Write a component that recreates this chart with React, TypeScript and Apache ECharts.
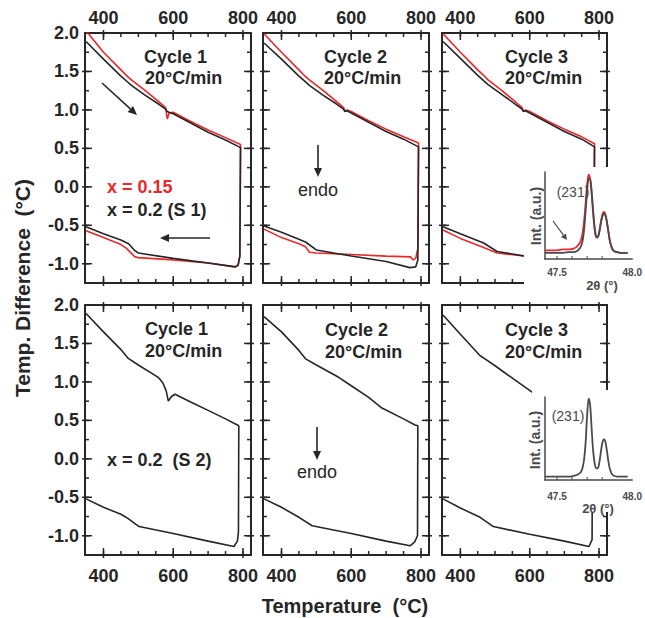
import React, { useEffect, useRef } from "react";
import * as echarts from "echarts";

// ---------- axis ranges & tick values ----------
const T_MIN = 347;
const T_MAX = 823;
const Y_MIN = -1.25;
const Y_MAX = 2.0;
const X_LABELS = [400, 600, 800];
const X_MINOR = [400, 450, 500, 550, 600, 650, 700, 750, 800];
const Y_LABELS = [-1.0, -0.5, 0.0, 0.5, 1.0, 1.5, 2.0];
const Y_MINOR = [-1.0, -0.75, -0.5, -0.25, 0, 0.25, 0.5, 0.75, 1.0, 1.25, 1.5, 1.75];

const INSET_X_MIN = 47.42;
const INSET_X_MAX = 48.0;
const INSET_LABELS = [47.5, 48.0];
const INSET_TICKS = [47.5, 47.6, 47.7, 47.8];

// ---------- top row: x = 0.2 (S 1) black, x = 0.15 red ----------
const S1C1_T_BLACK = [350, 400, 450, 470, 480, 520, 560, 578, 583, 588, 600, 650, 700, 750, 793, 791, 786, 778, 700, 600, 500, 490, 472, 450, 400, 350];
const S1C1_V_BLACK = [1.89, 1.66, 1.44, 1.36, 1.32, 1.19, 1.07, 1.01, 0.98, 0.97, 0.95, 0.83, 0.71, 0.61, 0.51, -0.90, -1.02, -1.04, -0.99, -0.93, -0.86, -0.83, -0.74, -0.69, -0.61, -0.52];
const S1C1_T_RED = [350, 400, 450, 470, 480, 520, 560, 578, 583, 588, 600, 650, 700, 750, 793, 791, 786, 778, 700, 600, 500, 490, 466, 450, 400, 350];
const S1C1_V_RED = [2.03, 1.75, 1.52, 1.43, 1.39, 1.25, 1.10, 1.03, 0.88, 0.96, 0.97, 0.85, 0.74, 0.64, 0.55, -0.90, -1.01, -1.04, -0.99, -0.95, -0.92, -0.91, -0.80, -0.75, -0.66, -0.57];

const S1C2_T_BLACK = [350, 400, 450, 465, 480, 520, 560, 578, 582, 588, 600, 650, 700, 750, 793, 791, 785, 768, 700, 600, 500, 470, 450, 400, 350];
const S1C2_V_BLACK = [1.87, 1.66, 1.44, 1.38, 1.32, 1.19, 1.07, 1.01, 0.98, 0.99, 0.96, 0.84, 0.72, 0.62, 0.52, -0.95, -1.04, -1.05, -0.97, -0.90, -0.82, -0.72, -0.68, -0.59, -0.51];
const S1C2_T_RED = [350, 400, 450, 465, 480, 520, 560, 578, 582, 588, 600, 650, 700, 750, 793, 791, 785, 778, 770, 700, 600, 500, 480, 469, 450, 400, 350];
const S1C2_V_RED = [1.99, 1.75, 1.52, 1.45, 1.39, 1.25, 1.10, 1.03, 0.98, 1.00, 0.98, 0.86, 0.75, 0.65, 0.57, -0.80, -0.93, -0.95, -0.91, -0.90, -0.88, -0.86, -0.85, -0.78, -0.74, -0.66, -0.55];

const S1C3_T_BLACK = [350, 400, 450, 467, 480, 520, 560, 578, 582, 588, 600, 650, 700, 750, 787, 785, 775, 700, 600, 506, 467, 400, 350];
const S1C3_V_BLACK = [1.89, 1.67, 1.45, 1.38, 1.33, 1.20, 1.07, 1.01, 0.98, 0.99, 0.96, 0.84, 0.72, 0.62, 0.52, -0.95, -1.03, -0.97, -0.91, -0.84, -0.73, -0.61, -0.52];
const S1C3_T_RED = [350, 400, 450, 467, 480, 520, 560, 578, 582, 588, 600, 650, 700, 750, 787, 785, 775, 700, 584, 506, 467, 400, 350];
const S1C3_V_RED = [1.99, 1.75, 1.52, 1.45, 1.39, 1.25, 1.10, 1.03, 0.98, 1.00, 0.98, 0.86, 0.75, 0.65, 0.56, -0.90, -0.95, -0.92, -0.90, -0.86, -0.79, -0.67, -0.56];

// ---------- bottom row: x = 0.2 (S 2) ----------
const S2C1_T = [350, 400, 450, 470, 500, 557, 570, 580, 586, 595, 605, 650, 700, 750, 788, 787, 784, 774, 700, 600, 502, 472, 450, 400, 350];
const S2C1_V = [1.89, 1.65, 1.42, 1.31, 1.22, 1.06, 0.99, 0.88, 0.75, 0.81, 0.84, 0.74, 0.63, 0.52, 0.43, -0.95, -1.07, -1.14, -1.07, -0.97, -0.88, -0.78, -0.72, -0.63, -0.52];
const S2C2_T = [350, 400, 450, 469, 500, 564, 600, 650, 688, 750, 783, 791, 790, 782, 769, 700, 600, 488, 450, 400, 350];
const S2C2_V = [1.85, 1.65, 1.41, 1.30, 1.22, 1.06, 0.95, 0.80, 0.66, 0.52, 0.44, 0.43, -1.00, -1.08, -1.13, -1.07, -0.97, -0.87, -0.76, -0.63, -0.52];
const S2C3_T = [350, 400, 457, 471, 500, 550, 609, 650, 700, 750, 781, 780, 771, 700, 600, 495, 457, 400, 350];
const S2C3_V = [1.87, 1.62, 1.34, 1.30, 1.21, 1.05, 0.86, 0.76, 0.63, 0.52, 0.45, -1.05, -1.14, -1.07, -0.98, -0.88, -0.76, -0.64, -0.52];

// ---------- XRD insets: (231) reflection ----------
const INSET_2THETA = [47.42, 47.46, 47.5, 47.54, 47.58, 47.61, 47.63, 47.65, 47.66, 47.67, 47.68, 47.69, 47.7, 47.71, 47.72, 47.73, 47.74, 47.75, 47.76, 47.77, 47.78, 47.79, 47.8, 47.81, 47.82, 47.83, 47.84, 47.85, 47.86, 47.87, 47.88, 47.9, 47.93, 47.97];
const INSET_TOP_RED = [0.10, 0.10, 0.10, 0.11, 0.11, 0.12, 0.14, 0.18, 0.22, 0.30, 0.44, 0.64, 0.86, 0.97, 0.92, 0.74, 0.52, 0.34, 0.25, 0.25, 0.31, 0.41, 0.50, 0.54, 0.52, 0.44, 0.33, 0.22, 0.15, 0.11, 0.09, 0.08, 0.07, 0.07];
const INSET_TOP_BLACK = [0.07, 0.07, 0.07, 0.07, 0.08, 0.08, 0.09, 0.12, 0.15, 0.21, 0.34, 0.55, 0.78, 0.92, 0.92, 0.78, 0.56, 0.36, 0.26, 0.25, 0.30, 0.40, 0.48, 0.52, 0.51, 0.44, 0.33, 0.22, 0.15, 0.11, 0.09, 0.08, 0.07, 0.07];
const INSET_BOTTOM = [0.04, 0.04, 0.04, 0.04, 0.04, 0.05, 0.06, 0.08, 0.10, 0.15, 0.25, 0.45, 0.78, 0.98, 0.90, 0.62, 0.35, 0.20, 0.14, 0.14, 0.20, 0.32, 0.44, 0.49, 0.47, 0.37, 0.24, 0.14, 0.09, 0.06, 0.05, 0.04, 0.04, 0.04];

const FONT = '"Liberation Sans", Arial, Helvetica, sans-serif';
const INK = "#262626";
const RED = "#e8282b";
const INSET_INK = "#4a4a4a";

const zip = (a: number[], b: number[]) => a.map((v, i) => [v, b[i]]);

const GRIDS = [
  { left: 85, top: 33, width: 166, height: 250 },
  { left: 263, top: 33, width: 166, height: 250 },
  { left: 442, top: 33, width: 165, height: 250 },
  { left: 85, top: 305, width: 166, height: 250 },
  { left: 263, top: 305, width: 166, height: 250 },
  { left: 442, top: 305, width: 165, height: 250 },
  { left: 545, top: 172, width: 93, height: 87 },
  { left: 545, top: 397, width: 93, height: 83 },
];

// tick marks drawn through the axes' own scales: item = [kind, value, insideLen, outsideLen]
// kind 0: x tick on bottom and top border, kind 1: y tick on left and right border, kind 2: x tick on bottom only
function tickRender(color: string, width: number) {
  return (params: any, api: any) => {
    const cs = params.coordSys;
    const kind = api.value(0);
    const v = api.value(1);
    const inL = api.value(2);
    const outL = api.value(3);
    const b = cs.y + cs.height;
    const t = cs.y;
    const l = cs.x;
    const r = cs.x + cs.width;
    const seg = (x1: number, y1: number, x2: number, y2: number) => ({
      type: "line", shape: { x1, y1, x2, y2 }, style: { stroke: color, lineWidth: width },
    });
    if (kind === 0 || kind === 2) {
      const px = api.coord([v, 0])[0];
      const children: any[] = [seg(px, b + outL, px, b - inL)];
      if (kind === 0) children.push(seg(px, t - outL, px, t + inL));
      return { type: "group", children };
    }
    const py = api.coord([T_MIN, v])[1];
    return { type: "group", children: [seg(l - outL, py, l + inL, py), seg(r + outL, py, r - inL, py)] };
  };
}

function buildOption() {
  const xAxis: any[] = [];
  const yAxis: any[] = [];
  const series: any[] = [];

  const panels = [
    { curves: [[S1C1_T_RED, S1C1_V_RED, RED], [S1C1_T_BLACK, S1C1_V_BLACK, INK]] },
    { curves: [[S1C2_T_RED, S1C2_V_RED, RED], [S1C2_T_BLACK, S1C2_V_BLACK, INK]] },
    { curves: [[S1C3_T_RED, S1C3_V_RED, RED], [S1C3_T_BLACK, S1C3_V_BLACK, INK]] },
    { curves: [[S2C1_T, S2C1_V, INK]] },
    { curves: [[S2C2_T, S2C2_V, INK]] },
    { curves: [[S2C3_T, S2C3_V, INK]] },
  ];

  const makeTicks = () => [
    ...X_MINOR.map((v) => [0, v, 4, 0]),
    ...X_LABELS.map((v) => [0, v, 7, 3]),
    ...Y_MINOR.map((v) => [1, v, 4, 0]),
    ...Y_LABELS.filter((v) => v < Y_MAX).map((v) => [1, v, 7, 3]),
  ];
  const labelFont = () => ({ fontFamily: FONT, fontWeight: "bold", fontSize: 18, color: INK });
  const axisLine = () => ({ show: true, onZero: false, lineStyle: { color: INK, width: 2 } });

  panels.forEach((p, g) => {
    const row = g < 3 ? 0 : 1;
    const col = g % 3;
    const xMain = xAxis.length;
    xAxis.push({
      type: "value", gridIndex: g, min: T_MIN, max: T_MAX, position: "bottom",
      splitLine: { show: false }, axisTick: { show: false }, axisLine: axisLine(),
      axisLabel: row === 1
        ? { show: true, customValues: X_LABELS.slice(), margin: 12, formatter: (v: number) => String(v), ...labelFont() }
        : { show: false },
    });
    xAxis.push({
      type: "value", gridIndex: g, min: T_MIN, max: T_MAX, position: "top",
      splitLine: { show: false }, axisTick: { show: false }, axisLine: axisLine(),
      axisLabel: row === 0
        ? { show: true, customValues: X_LABELS.slice(), margin: 6, formatter: (v: number) => String(v), ...labelFont() }
        : { show: false },
    });
    const yMain = yAxis.length;
    yAxis.push({
      type: "value", gridIndex: g, min: Y_MIN, max: Y_MAX, position: "left",
      splitLine: { show: false }, axisTick: { show: false }, axisLine: axisLine(),
      axisLabel: col === 0
        ? { show: true, customValues: Y_LABELS.slice(), margin: 6, formatter: (v: number) => v.toFixed(1), ...labelFont() }
        : { show: false },
    });
    yAxis.push({
      type: "value", gridIndex: g, min: Y_MIN, max: Y_MAX, position: "right",
      splitLine: { show: false }, axisTick: { show: false }, axisLine: axisLine(), axisLabel: { show: false },
    });

    p.curves.forEach((c: any) => {
      series.push({
        type: "line", xAxisIndex: xMain, yAxisIndex: yMain,
        data: zip(c[0], c[1]), showSymbol: false, symbol: "none", clip: true,
        lineStyle: { color: c[2], width: 1.6 }, z: 2,
      });
    });
    series.push({
      type: "custom", xAxisIndex: xMain, yAxisIndex: yMain, z: 3, silent: true, clip: false,
      data: makeTicks(), renderItem: tickRender(INK, 1.5),
    });
  });

  // insets
  const insets = [
    { grid: 6, curves: [[INSET_TOP_RED, RED], [INSET_TOP_BLACK, INSET_INK]], margin: 8 },
    { grid: 7, curves: [[INSET_BOTTOM, INSET_INK]], margin: 11 },
  ];
  insets.forEach((ins) => {
    const xi = xAxis.length;
    xAxis.push({
      type: "value", gridIndex: ins.grid, min: INSET_X_MIN, max: INSET_X_MAX, position: "bottom", z: 20,
      splitLine: { show: false },
      axisLine: { show: true, onZero: false, lineStyle: { color: INSET_INK, width: 1.5 } },
      axisTick: { show: false },
      axisLabel: {
        show: true, customValues: INSET_LABELS.slice(), margin: ins.margin, formatter: (v: number) => v.toFixed(1),
        fontFamily: FONT, fontWeight: "bold", fontSize: 10, color: INSET_INK,
      },
    });
    const yi = yAxis.length;
    yAxis.push({
      type: "value", gridIndex: ins.grid, min: 0, max: 1, position: "left", z: 20,
      splitLine: { show: false },
      axisLine: { show: true, onZero: false, lineStyle: { color: INSET_INK, width: 1.5 } },
      axisTick: { show: false }, axisLabel: { show: false },
    });
    ins.curves.forEach((c: any) => {
      series.push({
        type: "line", xAxisIndex: xi, yAxisIndex: yi, z: 21,
        data: zip(INSET_2THETA, c[0]), showSymbol: false, symbol: "none", smooth: 0.3,
        lineStyle: { color: c[1], width: 1.8 },
      });
    });
    series.push({
      type: "custom", xAxisIndex: xi, yAxisIndex: yi, z: 22, silent: true, clip: false,
      data: INSET_TICKS.map((v) => [2, v, 3, 0]), renderItem: tickRender(INSET_INK, 1),
    });
  });

  const txt = (text: string, x: number, y: number, size: number, o: any = {}) => ({
    type: "text", x, y, z: 30, rotation: o.rot || 0,
    style: {
      text, fill: o.fill || INK, fontFamily: FONT, fontSize: size, fontWeight: o.weight || "bold",
      textAlign: o.align || "left", textVerticalAlign: "middle", verticalAlign: "middle",
    },
  });
  const arrow = (x1: number, y1: number, x2: number, y2: number, len: number, half: number, color: string, w: number) => {
    const dx = x2 - x1, dy = y2 - y1;
    const d = Math.sqrt(dx * dx + dy * dy);
    const ux = dx / d, uy = dy / d;
    const bx = x2 - ux * len, by = y2 - uy * len;
    return [
      { type: "line", z: 30, shape: { x1, y1, x2: bx, y2: by }, style: { stroke: color, lineWidth: w } },
      {
        type: "polygon", z: 30,
        shape: { points: [[x2, y2], [bx - uy * half, by + ux * half], [bx + uy * half, by - ux * half]] },
        style: { fill: color },
      },
    ];
  };

  const graphic: any[] = [
    { type: "rect", z: 10, shape: { x: 524, y: 167, width: 121, height: 132 }, style: { fill: "#fff" } },
    { type: "rect", z: 10, shape: { x: 532, y: 390, width: 113, height: 122 }, style: { fill: "#fff" } },
    txt("Cycle 1", 144, 57, 18), txt("20°C/min", 145, 78, 18),
    txt("Cycle 2", 324, 57, 18), txt("20°C/min", 324, 78, 18),
    txt("Cycle 3", 505, 57, 18), txt("20°C/min", 505, 78, 18),
    txt("Cycle 1", 145, 329, 18), txt("20°C/min", 145, 351, 18),
    txt("Cycle 2", 325, 330, 18), txt("20°C/min", 325, 352, 18),
    txt("Cycle 3", 505, 330, 18), txt("20°C/min", 505, 352, 18),
    txt("x = 0.15", 107, 187, 18, { fill: RED }),
    txt("x = 0.2 (S 1)", 107, 210, 18),
    txt("x = 0.2  (S 2)", 107, 460, 18),
    txt("endo", 318, 190, 18, { weight: "normal", align: "center" }),
    txt("endo", 317, 472, 18, { weight: "normal", align: "center" }),
    ...arrow(102, 83, 137, 115, 9, 4, INK, 1.6),
    ...arrow(210, 238, 160, 238, 9, 4, INK, 1.6),
    ...arrow(318, 145, 318, 177, 9, 4, INK, 1.6),
    ...arrow(317, 427, 317, 460, 9, 4, INK, 1.6),
    ...arrow(553, 221, 567, 240, 6, 3, INSET_INK, 1.2),
    txt("(231)", 573, 192, 14, { weight: "normal", align: "center", fill: INSET_INK }),
    txt("Int. (a.u.)", 536, 216, 14, { align: "center", fill: INSET_INK, rot: Math.PI / 2 }),
    txt("2θ (°)", 602, 285, 13, { align: "center", fill: INSET_INK }),
    txt("(231)", 568, 416, 14, { weight: "normal", align: "center", fill: INSET_INK }),
    txt("Int. (a.u.)", 535, 440, 14, { align: "center", fill: INSET_INK, rot: Math.PI / 2 }),
    txt("2θ (°)", 598, 508, 13, { align: "center", fill: INSET_INK }),
    txt("Temp. Difference  (°C)", 22, 288, 21, { align: "center", rot: Math.PI / 2 }),
    txt("Temperature  (°C)", 345, 606, 20, { align: "center" }),
  ];

  return {
    animation: false,
    backgroundColor: "#fff",
    grid: GRIDS.map((g) => ({ ...g })),
    xAxis, yAxis, series, graphic,
  };
}

export default function App() {
  const ref = useRef<HTMLDivElement>(null);
  useEffect(() => {
    document.body.style.margin = "0";
    const chart = echarts.init(ref.current!, null, { renderer: "svg" });
    chart.setOption(buildOption() as any);
    return () => chart.dispose();
  }, []);
  return <div ref={ref} style={{ width: 645, height: 618 }} />;
}
